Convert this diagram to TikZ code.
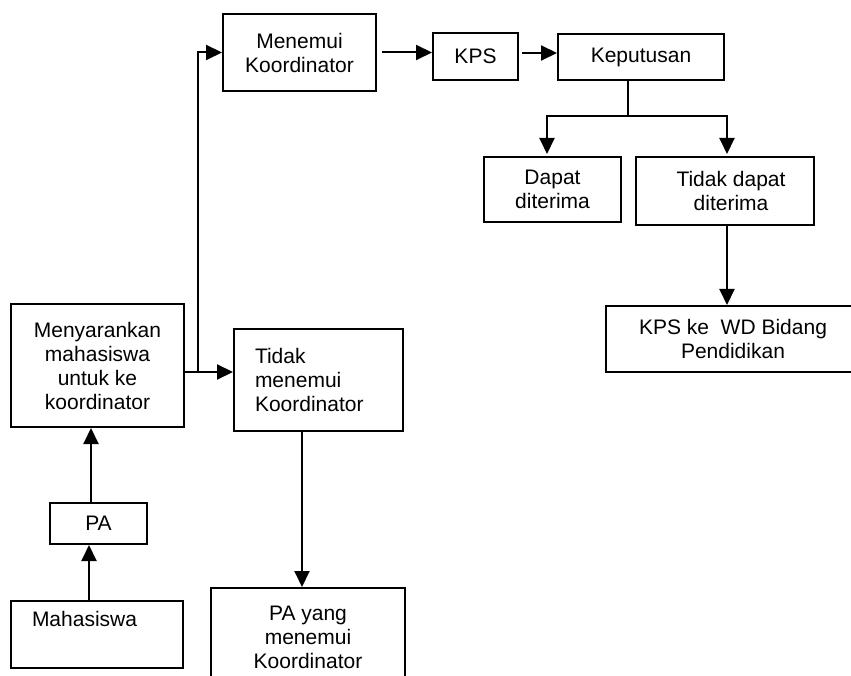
\documentclass[tikz,border=0pt]{standalone}
\usepackage{fontspec}
\setmainfont{Liberation Sans}
\usetikzlibrary{arrows.meta}
\tikzset{
  box/.style={draw, line width=2pt, rectangle, anchor=north west, inner sep=0pt, align=center,
    font=\fontsize{21}{24}\selectfont},
  arr/.style={line width=2pt, -{Triangle[length=16pt,width=15pt]}},
  ln/.style={line width=2pt},
}
\begin{document}
\begin{tikzpicture}[x=1pt,y=-1pt]
\useasboundingbox (0,0) rectangle (851,676);
\clip (0,0) rectangle (851,676);
\fill[white] (0,0) rectangle (851,676);
% nodes
\node[box, minimum width=153pt, minimum height=77pt] (menemui) at (222,13) {Menemui\\Koordinator};
\node[box, minimum width=85pt, minimum height=47pt] (kps) at (432,32) {KPS};
\node[box, minimum width=166pt, minimum height=46pt] (kep) at (557,33) {Keputusan};
\node[box, minimum width=137pt, minimum height=65pt] (dapat) at (483,156) {Dapat\\diterima};
\node[box, minimum width=178pt, minimum height=68pt] (tdapat) at (635,156) {\hspace*{12pt}Tidak dapat\\\hspace*{12pt}diterima};
\node[box, minimum width=254pt, minimum height=66pt] (kpswd) at (605,305) {KPS ke\ \ WD Bidang\\Pendidikan};
\node[box, minimum width=173pt, minimum height=123pt] (saran) at (10,303) {Menyarankan\\mahasiswa\\untuk ke\\koordinator};
\node[box, align=left, text width=127pt, inner xsep=21pt, minimum height=102pt] (tidak) at (233,328) {Tidak\\menemui\\Koordinator};
\node[box, minimum width=97pt, minimum height=41pt] (pa) at (49,502) {PA};
\node[box, align=left, text width=130pt, inner xsep=21pt, minimum height=67pt] (mhs) at (10,600) {Mahasiswa\\\strut};
\node[box, minimum width=194pt, minimum height=98pt] (payang) at (210,587) {PA yang\\menemui\\Koordinator};
% connectors
\coordinate (jn) at (198,372);
\draw[arr] (saran.east |- jn) -- (tidak.west |- jn);
\draw[arr] (jn) |- (menemui.west);
\draw[arr, shorten <=5pt] (menemui.east) -- (kps.west |- menemui.east);
\draw[arr, shorten <=3pt] ([yshift=3.5pt]kps.east) -- ([yshift=3.5pt]kps.east -| kep.west);
\coordinate (split) at (628,116);
\coordinate (bl) at (547,116);
\coordinate (br) at (727,116);
\draw[ln] (kep.south -| split) -- (split);
\draw[arr] (split) -- (bl) -- ([yshift=2pt]bl |- dapat.north);
\draw[arr] (split) -- (br) -- ([yshift=2pt]br |- tdapat.north);
\draw[arr] (br |- tdapat.south) -- (br |- kpswd.north);
\coordinate (xpa) at (91,0);
\coordinate (xmh) at (89,0);
\coordinate (xtd) at (302,0);
\draw[arr] (xpa |- pa.north) -- (xpa |- saran.south);
\draw[arr] (xmh |- mhs.north) -- (xmh |- pa.south);
\draw[arr] (xtd |- tidak.south) -- (xtd |- payang.north);
\end{tikzpicture}
\end{document}
